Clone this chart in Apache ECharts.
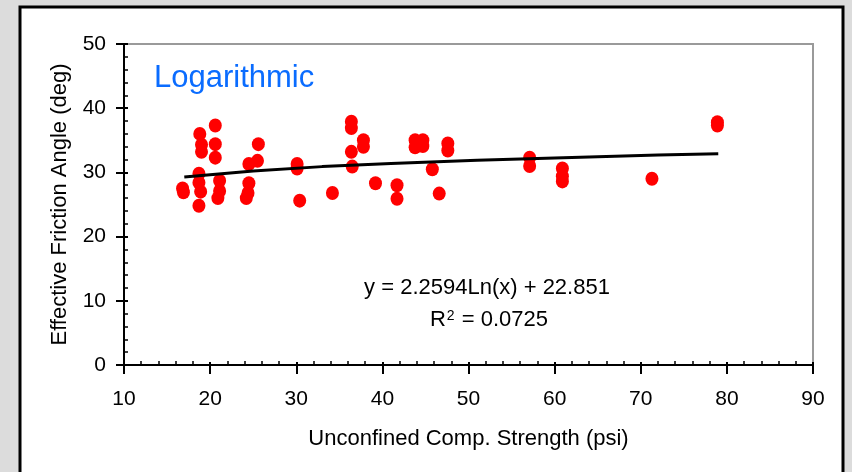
<!DOCTYPE html>
<html>
<head>
<meta charset="utf-8">
<script src="https://cdn.jsdelivr.net/npm/echarts@6/dist/echarts.min.js"></script>
<style>
  html, body { margin: 0; padding: 0; background: #dcdcdc; }
  #main { width: 852px; height: 472px; }
</style>
</head>
<body>
<div id="main"></div>
<script>
// measured points: [strength psi, friction angle deg]
const points = [
  [16.8, 27.5], [16.9, 26.9],
  [18.8, 36.0], [19.0, 34.3], [19.0, 33.2], [18.7, 29.8], [18.7, 28.4], [18.9, 27.0], [18.7, 24.8],
  [20.6, 37.3], [20.6, 34.4], [20.6, 32.3],
  [21.1, 28.7], [21.1, 27.1], [20.9, 26.0],
  [24.5, 31.3], [24.5, 28.3], [24.4, 26.8], [24.2, 26.0],
  [25.6, 34.4], [25.5, 31.8],
  [30.1, 31.3], [30.1, 30.6], [30.4, 25.6],
  [34.2, 26.8],
  [36.4, 37.9], [36.4, 36.9], [36.4, 33.2], [36.5, 30.9],
  [37.8, 35.0], [37.8, 34.0],
  [39.2, 28.3],
  [41.7, 28.0], [41.7, 25.9],
  [43.8, 35.0], [43.8, 33.9], [44.7, 35.0], [44.7, 34.1],
  [45.8, 30.5], [46.6, 26.7],
  [47.6, 34.5], [47.6, 33.4],
  [57.1, 32.3], [57.1, 31.0],
  [60.9, 30.6], [60.9, 29.4], [60.9, 28.6],
  [71.3, 29.0],
  [78.9, 37.8], [78.9, 37.3]
];

// logarithmic trend line
const trendX = [17, 25, 33, 41, 51, 61, 72, 79];
const trendY = [29.3, 30.2, 30.9, 31.4, 31.9, 32.3, 32.7, 32.9];

const xName = 'Unconfined Comp. Strength (psi)';
const yName = 'Effective Friction Angle (deg)';
const fitLabel = 'Logarithmic';
const fitEquation = 'y = 2.2594Ln(x) + 22.851';
const fitR2 = '0.0725';

const FONT = '"Liberation Sans", Arial, sans-serif';
const gridBox = { left: 124, top: 44, width: 689, height: 321 };

const chart = echarts.init(document.getElementById('main'));

// outer axis: line, labels and outward ticks
const outerX = {
  gridIndex: 0, type: 'value', min: 10, max: 90, interval: 10, position: 'bottom',
  name: xName, nameLocation: 'middle', nameGap: 63,
  nameTextStyle: { color: '#000', fontSize: 22, fontFamily: FONT },
  axisLine: { show: true, lineStyle: { color: '#000', width: 2 } },
  axisTick: { show: true, inside: false, length: 9, lineStyle: { color: '#000', width: 2 } },
  axisLabel: { color: '#000', fontSize: 21, fontFamily: FONT, margin: 24 },
  splitLine: { show: false }
};
const outerY = {
  gridIndex: 0, type: 'value', min: 0, max: 50, interval: 10, position: 'left',
  name: yName, nameLocation: 'middle', nameGap: 53,
  nameTextStyle: { color: '#000', fontSize: 22, fontFamily: FONT },
  axisLine: { show: true, lineStyle: { color: '#000', width: 2 } },
  axisTick: { show: true, inside: false, length: 8, lineStyle: { color: '#000', width: 2 } },
  axisLabel: { color: '#000', fontSize: 21, fontFamily: FONT, margin: 18 },
  splitLine: { show: false }
};
// inner axis on a copy of the grid: inward ticks + minor ticks only
const innerX = {
  gridIndex: 1, type: 'value', min: 10, max: 90, interval: 10, position: 'bottom',
  axisLine: { show: false },
  axisTick: { show: true, inside: true, length: 3, lineStyle: { color: '#000', width: 2 } },
  minorTick: { show: true, splitNumber: 5, length: 4, lineStyle: { color: '#000', width: 1.5 } },
  axisLabel: { show: false },
  splitLine: { show: false }
};
const innerY = {
  gridIndex: 1, type: 'value', min: 0, max: 50, interval: 10, position: 'left',
  axisLine: { show: false },
  axisTick: { show: true, inside: true, length: 4, lineStyle: { color: '#000', width: 2 } },
  minorTick: { show: true, splitNumber: 5, length: 4, lineStyle: { color: '#000', width: 1.5 } },
  axisLabel: { show: false },
  splitLine: { show: false }
};

const option = {
  backgroundColor: '#dcdcdc',
  animation: false,
  grid: [
    Object.assign({ show: true, backgroundColor: '#fff', borderColor: '#9a9a9a', borderWidth: 2 }, gridBox),
    Object.assign({ show: false }, gridBox)
  ],
  xAxis: [outerX, innerX],
  yAxis: [outerY, innerY],
  graphic: [
    { // white panel with black frame
      type: 'rect', z: -10, silent: true,
      shape: { x: 20, y: 7, width: 823, height: 490 },
      style: { fill: '#fff', stroke: '#000', lineWidth: 3 }
    },
    {
      type: 'text', left: 154, top: 63,
      style: { text: fitLabel, fill: '#0a6cff', fontSize: 31, fontFamily: FONT }
    },
    {
      type: 'text', x: 487, y: 288,
      style: { text: fitEquation, fill: '#000', fontSize: 22, fontFamily: FONT, align: 'center', verticalAlign: 'middle' }
    },
    {
      type: 'text', x: 489, y: 320,
      style: {
        text: 'R{s|2} = ' + fitR2, fill: '#000', fontSize: 22, fontFamily: FONT,
        align: 'center', verticalAlign: 'middle',
        rich: { s: { fontSize: 14, fontFamily: FONT, fill: '#000', verticalAlign: 'top', lineHeight: 14, padding: [0, 1, 16, 1] } }
      }
    }
  ],
  series: [
    {
      type: 'scatter', xAxisIndex: 0, yAxisIndex: 0,
      data: points,
      symbol: 'circle', symbolSize: [13, 14],
      itemStyle: { color: '#ff0000', opacity: 1 },
      z: 2
    },
    {
      type: 'line', xAxisIndex: 0, yAxisIndex: 0,
      data: trendX.map((x, i) => [x, trendY[i]]),
      showSymbol: false, smooth: false,
      lineStyle: { color: '#000', width: 3 },
      z: 3
    }
  ]
};

chart.setOption(option);
</script>
</body>
</html>
